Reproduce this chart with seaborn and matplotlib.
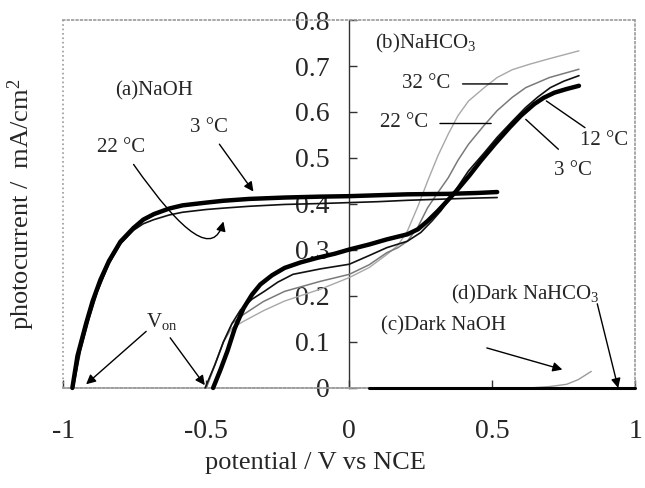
import seaborn as sns
import matplotlib
matplotlib.use("Agg")
import matplotlib.pyplot as plt

# (a) NaOH, illuminated
naoh_3_x = [-0.968, -0.95, -0.92, -0.897, -0.87, -0.84, -0.80, -0.754, -0.72, -0.683, -0.63, -0.583,
            -0.50, -0.44, -0.35, -0.226, -0.10, 0.0, 0.10, 0.203, 0.346, 0.45, 0.517]
naoh_3_y = [0.0, 0.07, 0.14, 0.189, 0.235, 0.276, 0.318, 0.348, 0.366, 0.378, 0.390, 0.397,
            0.403, 0.407, 0.411, 0.414, 0.416, 0.417, 0.419, 0.421, 0.422, 0.424, 0.426]
naoh_22_x = [-0.965, -0.94, -0.91, -0.88, -0.84, -0.80, -0.754, -0.72, -0.683, -0.63, -0.583, -0.50,
             -0.44, -0.35, -0.226, -0.10, 0.0, 0.10, 0.203, 0.346, 0.45, 0.517]
naoh_22_y = [0.0, 0.08, 0.15, 0.21, 0.27, 0.313, 0.343, 0.357, 0.366, 0.376, 0.382, 0.388,
             0.391, 0.395, 0.399, 0.401, 0.403, 0.405, 0.408, 0.411, 0.413, 0.414]

# (b) NaHCO3, illuminated
hco3_3_x = [-0.476, -0.45, -0.426, -0.40, -0.369, -0.34, -0.311, -0.27, -0.226, -0.17, -0.111, -0.05,
            0.0, 0.07, 0.131, 0.203, 0.24, 0.274, 0.31, 0.331, 0.374, 0.42, 0.46, 0.51, 0.56, 0.60,
            0.646, 0.68, 0.717, 0.76, 0.803]
hco3_3_y = [0.0, 0.04, 0.08, 0.13, 0.174, 0.203, 0.225, 0.245, 0.261, 0.273, 0.283, 0.292,
            0.301, 0.312, 0.323, 0.334, 0.345, 0.363, 0.385, 0.399, 0.428, 0.462, 0.494, 0.531, 0.566, 0.592,
            0.617, 0.631, 0.642, 0.650, 0.657]
hco3_12_x = [-0.504, -0.47, -0.44, -0.41, -0.38, -0.34, -0.297, -0.25, -0.197, -0.10, 0.0, 0.07, 0.131,
             0.203, 0.25, 0.289, 0.32, 0.346, 0.38, 0.417, 0.47, 0.517, 0.57, 0.617, 0.66, 0.703, 0.75, 0.803]
hco3_12_y = [0.0, 0.05, 0.10, 0.14, 0.17, 0.193, 0.21, 0.23, 0.247, 0.259, 0.269, 0.288, 0.305,
             0.319, 0.338, 0.363, 0.385, 0.407, 0.438, 0.472, 0.51, 0.545, 0.58, 0.61, 0.633, 0.653, 0.667, 0.679]
hco3_22_x = [-0.50, -0.47, -0.44, -0.41, -0.369, -0.30, -0.226, -0.10, 0.0, 0.07, 0.131, 0.17, 0.203,
             0.24, 0.274, 0.31, 0.346, 0.38, 0.417, 0.47, 0.517, 0.57, 0.617, 0.70, 0.803]
hco3_22_y = [0.0, 0.05, 0.10, 0.14, 0.16, 0.188, 0.21, 0.232, 0.247, 0.268, 0.294, 0.305, 0.319,
             0.35, 0.392, 0.425, 0.457, 0.495, 0.53, 0.57, 0.603, 0.632, 0.653, 0.675, 0.693]
hco3_32_x = [-0.50, -0.47, -0.44, -0.41, -0.369, -0.30, -0.226, -0.10, 0.0, 0.07, 0.131, 0.17, 0.203,
             0.24, 0.274, 0.31, 0.346, 0.38, 0.417, 0.47, 0.517, 0.57, 0.631, 0.70, 0.803]
hco3_32_y = [0.0, 0.05, 0.10, 0.13, 0.145, 0.168, 0.189, 0.215, 0.24, 0.262, 0.29, 0.31, 0.341,
             0.395, 0.45, 0.505, 0.552, 0.592, 0.624, 0.652, 0.675, 0.692, 0.704, 0.716, 0.733]

# (c), (d) dark currents
dark_naoh_x = [-1.0, 0.0, 0.5, 0.63, 0.70, 0.76, 0.80, 0.846]
dark_naoh_y = [0.0, 0.0, 0.0, 0.0, 0.003, 0.008, 0.018, 0.036]
dark_hco3_x = [0.07, 0.5, 1.0]
dark_hco3_y = [0.0, 0.0, 0.0]

xticks = [-1, -0.5, 0, 0.5, 1]
xticklabels = ["-1", "-0.5", "0", "0.5", "1"]
yticks = [0, 0.1, 0.2, 0.3, 0.4, 0.5, 0.6, 0.7, 0.8]
yticklabels = ["0", "0.1", "0.2", "0.3", "0.4", "0.5", "0.6", "0.7", "0.8"]

sns.set_style("ticks")
plt.rcParams["font.family"] = ["Liberation Serif", "DejaVu Serif"]
plt.rcParams["mathtext.fontset"] = "custom"
plt.rcParams["mathtext.rm"] = "Liberation Serif"
plt.rcParams["mathtext.it"] = "Liberation Serif:italic"

fig, ax = plt.subplots(figsize=(6.45, 4.88), dpi=100)
fig.subplots_adjust(left=0.098, right=0.985, top=0.959, bottom=0.205)

curves = [
    (dark_naoh_x, dark_naoh_y, "#9a9a9a", 1.0),
    (hco3_32_x, hco3_32_y, "#a8a8a8", 1.0),
    (hco3_22_x, hco3_22_y, "#7a7a7a", 1.1),
    (hco3_12_x, hco3_12_y, "#111111", 1.2),
    (naoh_22_x, naoh_22_y, "#111111", 1.2),
    (hco3_3_x, hco3_3_y, "black", 3.2),
    (naoh_3_x, naoh_3_y, "black", 3.2),
    (dark_hco3_x, dark_hco3_y, "black", 2.2),
]
for xs, ys, c, lw in curves:
    sns.lineplot(x=xs, y=ys, ax=ax, color=c, lw=lw, sort=False, clip_on=False, zorder=3)

ax.set_xlim(-1, 1)
ax.set_ylim(0, 0.8)

# frame: dotted grey box, black y axis through x = 0
for side in ["top", "right", "bottom"]:
    ax.spines[side].set_color("#999999")
    ax.spines[side].set_linestyle(":")
    ax.spines[side].set_linewidth(1.2)
ax.axvline(-1, color="#999999", ls=":", lw=1.2, clip_on=False)
ax.spines["left"].set_position(("data", 0))
ax.spines["left"].set_color("#333333")
ax.spines["left"].set_linewidth(1.0)

ax.set_xticks(xticks)
ax.set_xticklabels(xticklabels)
ax.set_yticks(yticks)
ax.set_yticklabels(yticklabels)
ax.tick_params(axis="y", direction="in", length=6, width=1, color="#333333", pad=14, labelsize=20)
ax.tick_params(axis="x", direction="in", length=6, width=1, color="#333333", pad=22, labelsize=20)

ax.set_xlabel("potential / V vs NCE", fontsize=19)
ax.set_ylabel("photocurrent /  mA/cm$^2$", fontsize=19)
ax.xaxis.set_label_coords(0.44, -0.175)
ax.yaxis.set_label_coords(-0.045, 0.5)

fs = 15
arrow = dict(arrowstyle="-|>", color="black", lw=1.0, mutation_scale=14, shrinkA=0, shrinkB=0)
plain = dict(arrowstyle="-", color="black", lw=1.0, shrinkA=0, shrinkB=0)

# NaOH labels
ax.text(-0.683, 0.646, "(a)NaOH", fontsize=fs, ha="center", va="center")
ax.text(-0.49, 0.566, "3 °C", fontsize=fs, ha="center", va="center")
ax.annotate("", xy=(-0.335, 0.427), xytext=(-0.454, 0.53), arrowprops=arrow)
ax.text(-0.797, 0.523, "22 °C", fontsize=fs, ha="center", va="center")
ax.annotate("", xy=(-0.44, 0.362), xytext=(-0.754, 0.486),
            arrowprops=dict(arrow, connectionstyle="angle3,angleA=-55,angleB=75"))

# onset potentials
ax.text(-0.654, 0.145, "V$_\\mathrm{on}$", fontsize=fs, ha="center", va="center")
ax.annotate("", xy=(-0.92, 0.008), xytext=(-0.71, 0.123), arrowprops=arrow)
ax.annotate("", xy=(-0.505, 0.006), xytext=(-0.626, 0.109), arrowprops=arrow)

# NaHCO3 labels
ax.text(0.09, 0.749, "(b)NaHCO$_3$", fontsize=fs, ha="left", va="center")
ax.text(0.267, 0.661, "32 °C", fontsize=fs, ha="center", va="center")
ax.annotate("", xy=(0.553, 0.661), xytext=(0.396, 0.661), arrowprops=plain)
ax.text(0.19, 0.577, "22 °C", fontsize=fs, ha="center", va="center")
ax.annotate("", xy=(0.496, 0.575), xytext=(0.317, 0.575), arrowprops=plain)
ax.text(0.889, 0.537, "12 °C", fontsize=fs, ha="center", va="center")
ax.annotate("", xy=(0.689, 0.624), xytext=(0.824, 0.566), arrowprops=plain)
ax.text(0.781, 0.472, "3 °C", fontsize=fs, ha="center", va="center")
ax.annotate("", xy=(0.617, 0.584), xytext=(0.731, 0.519), arrowprops=plain)

# dark currents
ax.text(0.617, 0.203, "(d)Dark NaHCO$_3$", fontsize=fs, ha="center", va="center")
ax.annotate("", xy=(0.94, 0.0), xytext=(0.867, 0.183), arrowprops=arrow)
ax.text(0.33, 0.134, "(c)Dark NaOH", fontsize=fs, ha="center", va="center")
ax.annotate("", xy=(0.745, 0.04), xytext=(0.481, 0.087), arrowprops=arrow)

fig.savefig("out.png", dpi=100)
